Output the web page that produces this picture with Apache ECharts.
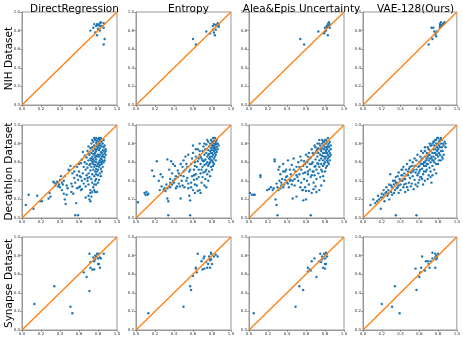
<!DOCTYPE html>
<html><head><meta charset="utf-8">
<script src="https://cdn.jsdelivr.net/npm/echarts@6/dist/echarts.min.js"></script>
<style>html,body{margin:0;padding:0;background:#fff}#c{width:463px;height:340px}</style>
</head><body><div id="c"></div>
<script>
var methods = ["DirectRegression","Entropy","Alea&Epis Uncertainty","VAE-128(Ours)"];
var datasets = ["NIH Dataset","Decathlon Dataset","Synapse Dataset"];
var tickLabels = ["0.0","0.2","0.4","0.6","0.8","1.0"];
var diagonal = [[0,0],[1,1]];

var nihDR = [[0.72,0.80],[0.75,0.83],[0.76,0.87],[0.79,0.87],[0.81,0.86],[0.82,0.88],[0.83,0.89],[0.82,0.85],[0.84,0.85],[0.86,0.88],[0.86,0.83],[0.80,0.82],[0.82,0.80],[0.77,0.78],[0.79,0.75],[0.87,0.71],[0.86,0.65],[0.78,0.85],[0.80,0.86]];
var nihEN = [[0.60,0.71],[0.63,0.65],[0.74,0.79],[0.78,0.77],[0.81,0.85],[0.82,0.87],[0.84,0.86],[0.86,0.88],[0.87,0.84],[0.84,0.81],[0.82,0.78],[0.83,0.75],[0.87,0.86],[0.85,0.85],[0.81,0.81]];
var nihAE = [[0.54,0.71],[0.58,0.65],[0.73,0.79],[0.79,0.77],[0.80,0.83],[0.82,0.85],[0.83,0.87],[0.84,0.89],[0.85,0.87],[0.81,0.80],[0.83,0.75],[0.82,0.84],[0.84,0.85],[0.80,0.79],[0.85,0.83]];
var nihVAE = [[0.70,0.65],[0.74,0.71],[0.73,0.83],[0.75,0.83],[0.76,0.79],[0.77,0.76],[0.78,0.78],[0.79,0.79],[0.82,0.85],[0.82,0.87],[0.83,0.89],[0.83,0.86],[0.85,0.87],[0.86,0.88],[0.87,0.89],[0.82,0.83],[0.78,0.74],[0.84,0.85]];

var decDR = [[0.04,0.14],[0.07,0.25],[0.12,0.10],[0.16,0.24],[0.19,0.18],[0.21,0.18],[0.28,0.21],[0.29,0.27],[0.30,0.23],[0.34,0.38],[0.36,0.37],[0.37,0.39],[0.38,0.34],[0.40,0.41],[0.41,0.45],[0.40,0.33],[0.42,0.30],[0.43,0.36],[0.44,0.26],[0.45,0.20],[0.46,0.15],[0.47,0.25],[0.47,0.35],[0.48,0.32],[0.49,0.52],[0.50,0.51],[0.51,0.56],[0.52,0.37],[0.52,0.28],[0.53,0.34],[0.54,0.26],[0.55,0.55],[0.55,0.43],[0.56,0.38],[0.56,0.03],[0.59,0.03],[0.57,0.16],[0.58,0.32],[0.58,0.46],[0.59,0.41],[0.60,0.33],[0.60,0.50],[0.61,0.34],[0.62,0.30],[0.62,0.44],[0.63,0.31],[0.63,0.63],[0.64,0.71],[0.64,0.48],[0.65,0.37],[0.65,0.55],[0.66,0.42],[0.66,0.60],[0.67,0.34],[0.67,0.52],[0.68,0.46],[0.68,0.58],[0.68,0.65],[0.69,0.40],[0.69,0.54],[0.70,0.24],[0.70,0.36],[0.70,0.48],[0.70,0.62],[0.71,0.20],[0.71,0.44],[0.71,0.57],[0.71,0.68],[0.72,0.18],[0.72,0.30],[0.72,0.51],[0.72,0.64],[0.72,0.75],[0.73,0.23],[0.73,0.42],[0.73,0.55],[0.73,0.70],[0.73,0.80],[0.74,0.38],[0.74,0.47],[0.74,0.60],[0.74,0.66],[0.74,0.76],[0.75,0.33],[0.75,0.52],[0.75,0.58],[0.75,0.63],[0.75,0.72],[0.75,0.82],[0.76,0.45],[0.76,0.55],[0.76,0.61],[0.76,0.68],[0.76,0.78],[0.77,0.28],[0.77,0.40],[0.77,0.50],[0.77,0.57],[0.77,0.65],[0.77,0.70],[0.77,0.74],[0.77,0.84],[0.78,0.36],[0.78,0.47],[0.78,0.53],[0.78,0.60],[0.78,0.63],[0.78,0.67],[0.78,0.72],[0.78,0.77],[0.78,0.81],[0.69,0.43],[0.79,0.50],[0.79,0.56],[0.73,0.62],[0.79,0.66],[0.70,0.69],[0.79,0.74],[0.79,0.79],[0.79,0.83],[0.80,0.38],[0.80,0.46],[0.80,0.52],[0.80,0.58],[0.87,0.62],[0.80,0.68],[0.88,0.74],[0.80,0.76],[0.80,0.80],[0.80,0.85],[0.81,0.55],[0.81,0.60],[0.74,0.64],[0.81,0.66],[0.87,0.78],[0.81,0.73],[0.81,0.78],[0.81,0.82],[0.82,0.48],[0.82,0.57],[0.82,0.62],[0.72,0.58],[0.82,0.68],[0.86,0.84],[0.82,0.75],[0.82,0.80],[0.82,0.84],[0.83,0.53],[0.83,0.60],[0.83,0.64],[0.75,0.69],[0.83,0.71],[0.88,0.72],[0.83,0.78],[0.83,0.86],[0.84,0.58],[0.84,0.63],[0.84,0.66],[0.84,0.70],[0.84,0.77],[0.84,0.82],[0.85,0.61],[0.85,0.68],[0.85,0.73],[0.85,0.80],[0.86,0.66],[0.86,0.72],[0.86,0.76],[0.87,0.70],[0.87,0.65],[0.88,0.68],[0.76,0.86],[0.78,0.86],[0.81,0.86],[0.74,0.84],[0.70,0.77],[0.69,0.72],[0.66,0.67],[0.62,0.59],[0.60,0.58],[0.58,0.55],[0.55,0.50],[0.53,0.48],[0.45,0.45],[0.44,0.40],[0.42,0.38],[0.39,0.36],[0.35,0.35],[0.33,0.39],[0.74,0.28],[0.76,0.30],[0.72,0.27],[0.79,0.28],[0.67,0.22],[0.63,0.40],[0.61,0.45],[0.85,0.55],[0.84,0.50],[0.86,0.60],[0.83,0.45],[0.81,0.41],[0.78,0.42],[0.76,0.36]];
var decEN = [[0.02,0.17],[0.09,0.27],[0.10,0.25],[0.11,0.28],[0.12,0.25],[0.13,0.26],[0.17,0.51],[0.19,0.45],[0.22,0.61],[0.24,0.40],[0.26,0.47],[0.29,0.30],[0.30,0.32],[0.31,0.29],[0.33,0.63],[0.33,0.21],[0.34,0.18],[0.34,0.03],[0.35,0.52],[0.36,0.42],[0.36,0.33],[0.37,0.61],[0.38,0.48],[0.39,0.58],[0.40,0.38],[0.41,0.56],[0.42,0.45],[0.43,0.34],[0.44,0.51],[0.45,0.48],[0.46,0.34],[0.47,0.21],[0.47,0.58],[0.48,0.40],[0.49,0.55],[0.50,0.45],[0.50,0.62],[0.51,0.33],[0.52,0.52],[0.52,0.66],[0.53,0.58],[0.54,0.43],[0.55,0.32],[0.55,0.68],[0.56,0.50],[0.56,0.24],[0.57,0.03],[0.57,0.19],[0.58,0.58],[0.58,0.38],[0.59,0.64],[0.59,0.45],[0.60,0.30],[0.60,0.70],[0.61,0.52],[0.61,0.41],[0.62,0.27],[0.62,0.60],[0.63,0.66],[0.63,0.47],[0.64,0.55],[0.64,0.35],[0.65,0.74],[0.65,0.61],[0.66,0.44],[0.66,0.52],[0.67,0.68],[0.67,0.30],[0.67,0.80],[0.68,0.58],[0.68,0.48],[0.69,0.64],[0.69,0.38],[0.70,0.72],[0.70,0.55],[0.70,0.44],[0.71,0.77],[0.71,0.61],[0.71,0.49],[0.72,0.68],[0.72,0.35],[0.72,0.57],[0.73,0.74],[0.73,0.63],[0.73,0.42],[0.74,0.70],[0.74,0.52],[0.74,0.79],[0.75,0.60],[0.75,0.66],[0.75,0.47],[0.76,0.73],[0.76,0.56],[0.76,0.82],[0.77,0.64],[0.77,0.69],[0.77,0.77],[0.77,0.50],[0.78,0.60],[0.78,0.72],[0.78,0.80],[0.78,0.66],[0.79,0.75],[0.79,0.62],[0.79,0.84],[0.79,0.55],[0.80,0.70],[0.80,0.78],[0.80,0.66],[0.80,0.73],[0.80,0.82],[0.81,0.60],[0.81,0.76],[0.81,0.68],[0.81,0.86],[0.81,0.80],[0.82,0.72],[0.82,0.64],[0.82,0.78],[0.82,0.83],[0.82,0.75],[0.83,0.70],[0.83,0.80],[0.83,0.66],[0.83,0.86],[0.83,0.76],[0.84,0.73],[0.84,0.79],[0.84,0.82],[0.84,0.68],[0.85,0.76],[0.85,0.84],[0.85,0.71],[0.86,0.80],[0.86,0.74],[0.87,0.78],[0.76,0.40],[0.78,0.45],[0.80,0.52],[0.74,0.33],[0.68,0.27],[0.65,0.29],[0.62,0.36],[0.58,0.33],[0.55,0.37],[0.53,0.40],[0.49,0.35],[0.45,0.37],[0.42,0.32],[0.39,0.40],[0.36,0.38],[0.32,0.36],[0.27,0.34],[0.28,0.44],[0.25,0.30],[0.60,0.78],[0.63,0.74],[0.67,0.72],[0.72,0.80],[0.75,0.84],[0.79,0.70],[0.82,0.58],[0.84,0.62],[0.81,0.56],[0.77,0.58],[0.73,0.50],[0.70,0.62],[0.66,0.64],[0.62,0.56],[0.57,0.52],[0.54,0.55],[0.50,0.50],[0.47,0.46],[0.44,0.44],[0.41,0.42],[0.38,0.36],[0.35,0.34],[0.33,0.32],[0.61,0.46],[0.64,0.42],[0.69,0.52],[0.74,0.58],[0.78,0.64],[0.83,0.74],[0.80,0.62],[0.85,0.80],[0.76,0.68],[0.72,0.62],[0.68,0.66]];
var decAE = [[0.01,0.27],[0.03,0.25],[0.05,0.25],[0.06,0.25],[0.12,0.46],[0.12,0.44],[0.19,0.30],[0.21,0.31],[0.23,0.33],[0.25,0.30],[0.27,0.63],[0.27,0.61],[0.28,0.20],[0.29,0.14],[0.30,0.03],[0.29,0.37],[0.30,0.33],[0.31,0.52],[0.32,0.55],[0.32,0.40],[0.33,0.47],[0.34,0.35],[0.35,0.42],[0.36,0.58],[0.37,0.36],[0.38,0.50],[0.39,0.44],[0.40,0.38],[0.41,0.62],[0.42,0.33],[0.43,0.52],[0.44,0.47],[0.45,0.57],[0.46,0.40],[0.46,0.21],[0.47,0.64],[0.48,0.35],[0.49,0.50],[0.50,0.23],[0.50,0.55],[0.51,0.44],[0.52,0.60],[0.53,0.47],[0.54,0.66],[0.55,0.38],[0.55,0.52],[0.56,0.30],[0.57,0.19],[0.57,0.56],[0.58,0.42],[0.58,0.61],[0.59,0.33],[0.59,0.49],[0.60,0.29],[0.60,0.68],[0.61,0.55],[0.61,0.40],[0.62,0.47],[0.62,0.62],[0.63,0.36],[0.63,0.70],[0.64,0.52],[0.64,0.58],[0.65,0.03],[0.65,0.44],[0.65,0.65],[0.66,0.27],[0.66,0.74],[0.67,0.50],[0.67,0.60],[0.68,0.38],[0.68,0.68],[0.69,0.55],[0.69,0.46],[0.69,0.78],[0.70,0.63],[0.70,0.34],[0.71,0.72],[0.71,0.52],[0.71,0.42],[0.72,0.66],[0.72,0.59],[0.72,0.80],[0.73,0.48],[0.73,0.70],[0.73,0.75],[0.74,0.62],[0.74,0.55],[0.74,0.84],[0.75,0.68],[0.75,0.44],[0.75,0.78],[0.76,0.64],[0.76,0.72],[0.76,0.58],[0.77,0.80],[0.77,0.50],[0.77,0.67],[0.77,0.75],[0.78,0.62],[0.78,0.70],[0.78,0.82],[0.78,0.56],[0.79,0.74],[0.79,0.66],[0.79,0.78],[0.79,0.40],[0.80,0.60],[0.80,0.70],[0.80,0.84],[0.80,0.76],[0.80,0.64],[0.81,0.72],[0.81,0.80],[0.81,0.66],[0.81,0.54],[0.82,0.76],[0.82,0.62],[0.82,0.70],[0.82,0.82],[0.82,0.74],[0.83,0.68],[0.83,0.78],[0.83,0.64],[0.83,0.86],[0.84,0.72],[0.84,0.66],[0.84,0.80],[0.84,0.76],[0.85,0.70],[0.85,0.82],[0.85,0.62],[0.86,0.74],[0.86,0.78],[0.86,0.68],[0.76,0.35],[0.74,0.30],[0.71,0.28],[0.68,0.31],[0.78,0.45],[0.80,0.50],[0.63,0.29],[0.60,0.20],[0.57,0.30],[0.54,0.33],[0.52,0.40],[0.48,0.42],[0.45,0.36],[0.43,0.40],[0.40,0.45],[0.38,0.41],[0.36,0.33],[0.34,0.38],[0.33,0.32],[0.31,0.30],[0.26,0.32],[0.55,0.62],[0.59,0.58],[0.62,0.66],[0.66,0.58],[0.70,0.70],[0.72,0.74],[0.75,0.74],[0.79,0.82],[0.81,0.84],[0.77,0.84],[0.74,0.80],[0.70,0.76],[0.67,0.70],[0.64,0.64],[0.61,0.60],[0.57,0.48],[0.53,0.55],[0.50,0.46],[0.47,0.52],[0.44,0.41],[0.41,0.37],[0.39,0.52],[0.36,0.50],[0.83,0.60],[0.85,0.66],[0.84,0.58],[0.82,0.56],[0.79,0.58],[0.76,0.52],[0.73,0.58],[0.70,0.56],[0.68,0.50],[0.66,0.46],[0.62,0.50]];
var decVAE = [[0.08,0.14],[0.11,0.20],[0.13,0.16],[0.16,0.24],[0.17,0.20],[0.19,0.10],[0.20,0.26],[0.21,0.22],[0.22,0.30],[0.23,0.18],[0.24,0.27],[0.25,0.33],[0.26,0.24],[0.27,0.30],[0.28,0.20],[0.28,0.36],[0.29,0.47],[0.30,0.28],[0.31,0.33],[0.31,0.25],[0.32,0.40],[0.33,0.36],[0.34,0.30],[0.35,0.44],[0.35,0.03],[0.36,0.38],[0.37,0.33],[0.38,0.49],[0.38,0.27],[0.39,0.42],[0.40,0.36],[0.41,0.52],[0.41,0.46],[0.42,0.40],[0.43,0.33],[0.43,0.55],[0.44,0.48],[0.45,0.42],[0.46,0.52],[0.46,0.37],[0.47,0.58],[0.48,0.46],[0.48,0.30],[0.49,0.53],[0.50,0.43],[0.50,0.62],[0.51,0.49],[0.52,0.37],[0.52,0.56],[0.53,0.60],[0.53,0.45],[0.54,0.52],[0.55,0.64],[0.55,0.41],[0.56,0.56],[0.56,0.49],[0.57,0.03],[0.57,0.62],[0.58,0.46],[0.58,0.68],[0.59,0.55],[0.59,0.38],[0.60,0.60],[0.60,0.50],[0.61,0.66],[0.61,0.44],[0.62,0.58],[0.62,0.72],[0.63,0.53],[0.63,0.64],[0.64,0.47],[0.64,0.70],[0.65,0.60],[0.65,0.56],[0.66,0.66],[0.66,0.76],[0.67,0.50],[0.67,0.62],[0.68,0.70],[0.68,0.58],[0.69,0.66],[0.69,0.42],[0.70,0.74],[0.70,0.62],[0.71,0.54],[0.71,0.80],[0.71,0.68],[0.72,0.60],[0.72,0.72],[0.73,0.66],[0.73,0.78],[0.73,0.38],[0.74,0.62],[0.74,0.70],[0.74,0.56],[0.75,0.74],[0.75,0.82],[0.75,0.66],[0.76,0.60],[0.76,0.70],[0.76,0.78],[0.77,0.64],[0.77,0.84],[0.77,0.74],[0.78,0.68],[0.78,0.58],[0.78,0.80],[0.79,0.72],[0.79,0.76],[0.79,0.86],[0.80,0.66],[0.80,0.80],[0.80,0.74],[0.81,0.70],[0.81,0.82],[0.81,0.62],[0.82,0.76],[0.82,0.84],[0.82,0.68],[0.83,0.72],[0.83,0.80],[0.84,0.76],[0.84,0.66],[0.84,0.84],[0.85,0.80],[0.85,0.72],[0.86,0.78],[0.86,0.68],[0.87,0.82],[0.88,0.76],[0.88,0.80],[0.72,0.50],[0.70,0.46],[0.68,0.52],[0.66,0.40],[0.64,0.36],[0.62,0.44],[0.60,0.41],[0.58,0.34],[0.56,0.36],[0.54,0.31],[0.51,0.34],[0.49,0.38],[0.47,0.33],[0.45,0.28],[0.44,0.36],[0.42,0.46],[0.40,0.30],[0.37,0.45],[0.34,0.40],[0.33,0.27],[0.30,0.35],[0.27,0.26],[0.25,0.28],[0.22,0.25],[0.19,0.22],[0.15,0.18],[0.78,0.48],[0.76,0.52],[0.80,0.58],[0.83,0.62],[0.85,0.64],[0.74,0.46],[0.72,0.44],[0.69,0.58],[0.67,0.56],[0.65,0.50],[0.63,0.42],[0.61,0.52],[0.59,0.48],[0.57,0.52],[0.55,0.56],[0.53,0.50],[0.50,0.55],[0.48,0.50],[0.46,0.46],[0.44,0.42],[0.42,0.52],[0.40,0.40],[0.38,0.35],[0.36,0.32],[0.35,0.38],[0.66,0.72],[0.69,0.76],[0.72,0.78],[0.74,0.80],[0.76,0.82],[0.78,0.84],[0.80,0.86],[0.83,0.86],[0.81,0.78],[0.79,0.68],[0.77,0.70],[0.75,0.62],[0.73,0.64],[0.71,0.64],[0.70,0.68],[0.68,0.64],[0.66,0.60],[0.64,0.58],[0.62,0.62],[0.60,0.56]];

var synDR = [[0.13,0.28],[0.34,0.47],[0.51,0.25],[0.53,0.18],[0.71,0.42],[0.65,0.62],[0.68,0.57],[0.71,0.82],[0.72,0.73],[0.72,0.67],[0.74,0.65],[0.75,0.78],[0.76,0.65],[0.77,0.76],[0.77,0.80],[0.79,0.82],[0.80,0.71],[0.80,0.77],[0.81,0.82],[0.82,0.67],[0.82,0.78],[0.83,0.77],[0.81,0.71],[0.86,0.82],[0.78,0.79],[0.76,0.74]];
var synEN = [[0.13,0.18],[0.50,0.25],[0.57,0.47],[0.58,0.43],[0.60,0.58],[0.63,0.66],[0.63,0.67],[0.65,0.82],[0.64,0.62],[0.69,0.74],[0.70,0.65],[0.71,0.77],[0.72,0.66],[0.72,0.79],[0.75,0.67],[0.76,0.71],[0.77,0.79],[0.78,0.75],[0.79,0.82],[0.78,0.67],[0.79,0.83],[0.80,0.71],[0.82,0.79],[0.84,0.81],[0.86,0.79],[0.79,0.76],[0.74,0.73]];
var synAE = [[0.05,0.18],[0.49,0.25],[0.53,0.47],[0.57,0.43],[0.62,0.67],[0.62,0.63],[0.64,0.65],[0.65,0.64],[0.66,0.74],[0.69,0.77],[0.71,0.57],[0.74,0.74],[0.75,0.82],[0.77,0.76],[0.77,0.79],[0.78,0.67],[0.79,0.82],[0.80,0.71],[0.80,0.77],[0.81,0.83],[0.82,0.79],[0.82,0.82],[0.80,0.66],[0.81,0.71],[0.76,0.73]];
var synVAE = [[0.20,0.28],[0.31,0.25],[0.34,0.47],[0.39,0.18],[0.57,0.43],[0.56,0.66],[0.60,0.57],[0.61,0.62],[0.62,0.67],[0.63,0.79],[0.66,0.64],[0.67,0.74],[0.69,0.74],[0.70,0.71],[0.71,0.67],[0.72,0.74],[0.74,0.77],[0.74,0.83],[0.77,0.78],[0.77,0.82],[0.77,0.67],[0.78,0.80],[0.79,0.78],[0.80,0.82],[0.78,0.76]];

var panelData = [[nihDR,nihEN,nihAE,nihVAE],[decDR,decEN,decAE,decVAE],[synDR,synEN,synAE,synVAE]];

var colLeft = [22,136,249,363];
var rowTop = [12,125,237];
var W = 95, H = 93;

var grids=[],xAxes=[],yAxes=[],series=[],titles=[],graphics=[];
function axis(i){
  return {gridIndex:i,type:'value',min:0,max:1,interval:0.2,
    splitLine:{show:false},
    axisLine:{show:true,lineStyle:{color:'#999',width:1}},
    axisTick:{show:true,length:2,lineStyle:{color:'#666',width:0.6}},
    axisLabel:{fontSize:4,margin:2,color:'#333',fontFamily:'DejaVu Sans',
      formatter:function(v){return tickLabels[Math.round(v*5)];}}};
}
var idx=0;
for(var r=0;r<3;r++){
  for(var c=0;c<4;c++){
    grids.push({left:colLeft[c],top:rowTop[r],width:W,height:H,show:true,borderColor:'#999',borderWidth:1,backgroundColor:'#fff'});
    xAxes.push(axis(idx));
    yAxes.push(axis(idx));
    series.push({type:'scatter',xAxisIndex:idx,yAxisIndex:idx,data:panelData[r][c],symbolSize:2.4,
      itemStyle:{color:'#1f77b4',opacity:1},silent:true,z:2});
    series.push({type:'line',xAxisIndex:idx,yAxisIndex:idx,data:diagonal,showSymbol:false,
      lineStyle:{color:'#ff7f0e',width:1.3},silent:true,z:3});
    idx++;
  }
}
for(var c=0;c<4;c++){
  titles.push({text:methods[c],left:colLeft[c]+W/2,top:-1,textAlign:'center',
    textStyle:{fontSize:10.5,fontWeight:'normal',color:'#000',fontFamily:'DejaVu Sans'}});
}
for(var r=0;r<3;r++){
  graphics.push({type:'text',x:9,y:rowTop[r]+H/2,rotation:Math.PI/2,
    style:{text:datasets[r],fontSize:10.5,fontFamily:'DejaVu Sans',fill:'#000',align:'center',verticalAlign:'middle'}});
}
var chart = echarts.init(document.getElementById('c'),null,{renderer:'canvas'});
chart.setOption({animation:false,backgroundColor:'#fff',title:titles,grid:grids,xAxis:xAxes,yAxis:yAxes,series:series,graphic:graphics});
</script>
</body></html>
